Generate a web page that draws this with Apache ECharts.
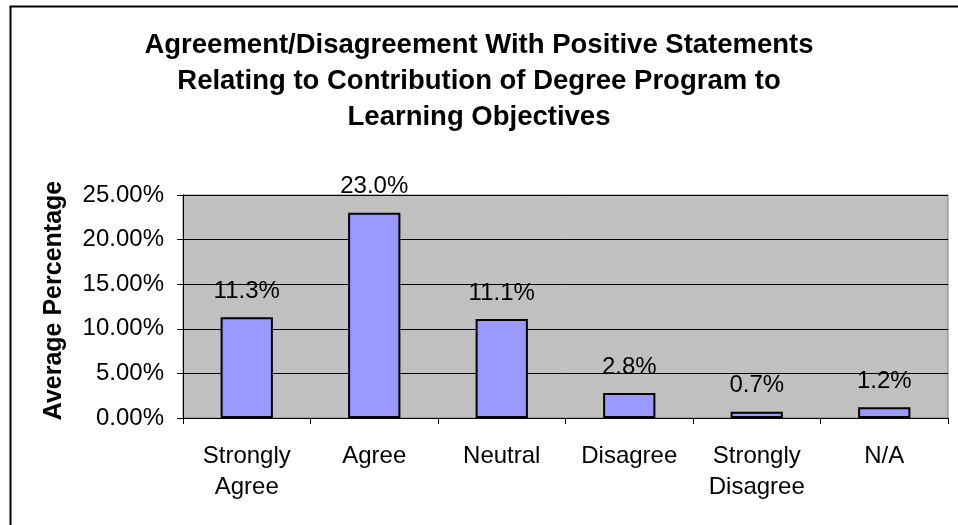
<!DOCTYPE html>
<html>
<head>
<meta charset="utf-8">
<script src="https://cdn.jsdelivr.net/npm/echarts@6/dist/echarts.min.js"></script>
<style>
html,body{margin:0;padding:0;background:#fff;}
#chart{width:958px;height:525px;}
</style>
</head>
<body>
<div id="chart"></div>
<script>
const titleText = "Agreement/Disagreement With Positive Statements\nRelating to Contribution of Degree Program to\nLearning Objectives";
const categories = ["Strongly Agree", "Agree", "Neutral", "Disagree", "Strongly Disagree", "N/A"];
const values = [11.3, 23.0, 11.1, 2.8, 0.7, 1.2];
const yTicks = [0, 5, 10, 15, 20, 25];
const yAxisName = "Average Percentage";

const FONT = "Arial, 'Liberation Sans', sans-serif";
const chart = echarts.init(document.getElementById('chart'), null, {renderer: 'canvas'});
chart.setOption({
  backgroundColor: '#ffffff',
  animation: false,
  graphic: [{
    type: 'rect', left: 8, top: 4,
    shape: {width: 960, height: 540},
    style: {fill: 'none', stroke: '#000', lineWidth: 2},
    silent: true
  }],
  title: {
    text: titleText,
    left: 'center',
    top: 22,
    textStyle: {fontFamily: FONT, fontSize: 27.5, fontWeight: 'bold', color: '#000', lineHeight: 36}
  },
  grid: {
    left: 183, top: 195, right: 10, bottom: 107,
    show: true, backgroundColor: '#C0C0C0', borderColor: '#808080', borderWidth: 1
  },
  xAxis: {
    type: 'category',
    data: categories,
    axisLine: {lineStyle: {color: '#000', width: 1}},
    axisTick: {show: true, alignWithLabel: false, length: 6, lineStyle: {color: '#000'}},
    axisLabel: {
      interval: 0, margin: 23, color: '#000', fontFamily: FONT, fontSize: 24, lineHeight: 31,
      formatter: v => v.replace(' ', '\n')
    }
  },
  yAxis: {
    type: 'value',
    min: yTicks[0], max: yTicks[yTicks.length - 1], interval: 5,
    name: yAxisName,
    nameLocation: 'middle',
    nameGap: 116,
    nameTextStyle: {fontFamily: FONT, fontSize: 25, fontWeight: 'bold', color: '#000', padding: [0, 0, 0, 12]},
    axisLine: {show: true, lineStyle: {color: '#000', width: 1}},
    axisTick: {show: true, length: 6, lineStyle: {color: '#000'}},
    axisLabel: {margin: 19, color: '#000', fontFamily: FONT, fontSize: 24, formatter: v => v.toFixed(2) + '%'},
    splitLine: {show: true, lineStyle: {color: '#000', width: 1}}
  },
  series: [{
    type: 'bar',
    data: values,
    barWidth: '41%',
    itemStyle: {color: '#9999FF', borderColor: '#000', borderWidth: 2},
    label: {
      show: true, position: 'top', distance: 14, color: '#000',
      fontFamily: FONT, fontSize: 24,
      formatter: p => p.value.toFixed(1) + '%'
    }
  }]
});
</script>
</body>
</html>
